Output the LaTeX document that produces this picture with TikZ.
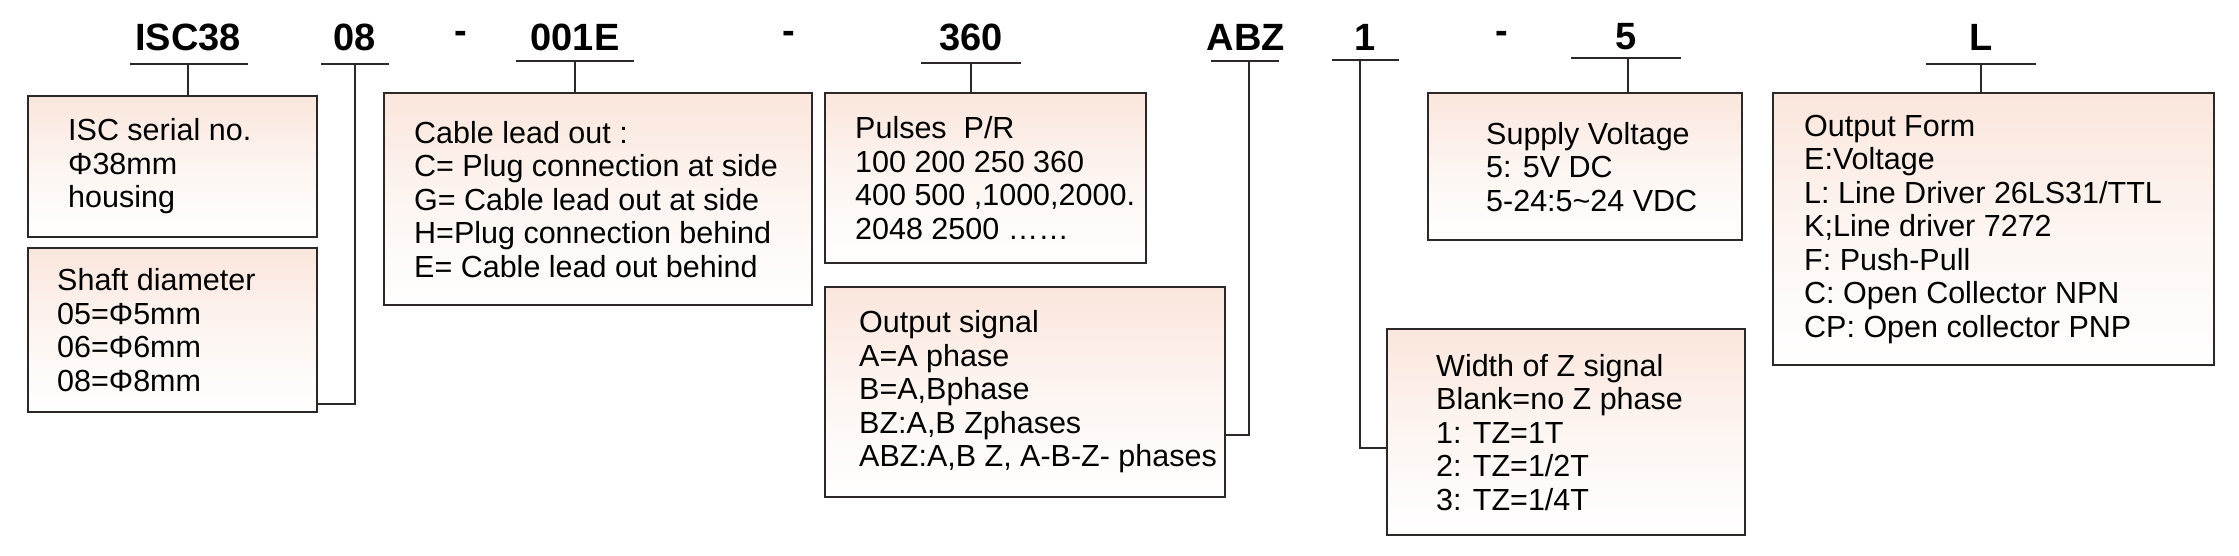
\documentclass[tikz,border=0pt]{standalone}
\usepackage{fontspec}
\setmainfont{Liberation Sans}
\usetikzlibrary{positioning,calc}
\definecolor{boxpeach}{RGB}{250,230,220}
\definecolor{boxline}{RGB}{45,40,40}

\begin{document}
\begin{tikzpicture}[x=1pt, y=-1pt,
  codebox/.style={draw=boxline, line width=2.2pt, anchor=north west, inner sep=0pt,
                  top color=boxpeach, bottom color=white, middle color=white!60!boxpeach,
                  shading angle=0},
  boxtext/.style={anchor=west, align=left, inner sep=0pt,
                  font=\fontsize{30.5}{33.5}\selectfont},
  code/.style={font=\fontsize{38}{40}\selectfont\bfseries, inner sep=0pt},
  lead/.style={line width=2pt, boxline}
]
\useasboundingbox (0,0) rectangle (2239,556);

%% code letters along the top
\node[code] (cisc)  at (188,37)  {ISC38};
\node[code] (cshaft) at (355,37) {08};
\node[code] (dash1) at (461,37)  {-};
\node[code] (ccable) at (575,37) {001E};
\node[code] (dash2) at (789,37)  {-};
\node[code] (cppr)  at (971,37)  {360};
\node[code] (cout)  at (1246,37) {ABZ};
\node[code] (cz)    at (1365,37) {1};
\node[code] (dash3) at (1502,37) {-};
\node[code] (cvolt) at (1626,37) {5};
\node[code] (cform) at (1981,37) {L};

%% boxes
\node[codebox, minimum width=289, minimum height=141] (bisc)   at (27,95)    {};
\node[codebox, minimum width=289, minimum height=164] (bshaft) at (27,247)   {};
\node[codebox, minimum width=428, minimum height=212] (bcable) at (383,92)   {};
\node[codebox, minimum width=321, minimum height=170] (bppr)   at (824,92)   {};
\node[codebox, minimum width=400, minimum height=210] (bout)   at (824,286)  {};
\node[codebox, minimum width=314, minimum height=147] (bvolt)  at (1427,92)  {};
\node[codebox, minimum width=358, minimum height=206] (bz)     at (1386,328) {};
\node[codebox, minimum width=441, minimum height=272] (bform)  at (1772,92)  {};

%% box texts
\node[boxtext] (tisc) at ([xshift=41]bisc.west)
  {ISC serial no.\\Φ38mm\\housing};
\node[boxtext] (tshaft) at ([xshift=30]bshaft.west)
  {Shaft diameter\\05=Φ5mm\\06=Φ6mm\\08=Φ8mm};
\node[boxtext] (tcable) at ([xshift=31]bcable.west)
  {Cable lead out :\\C= Plug connection at side\\G= Cable lead out at side\\H=Plug connection behind\\E= Cable lead out behind};
\node[boxtext] (tppr) at ([xshift=31]bppr.west)
  {Pulses\ \ P/R\\100 200 250 360\\400 500 ,1000,2000.\\2048 2500 \ldots\ldots};
\node[boxtext] (tout) at ([xshift=35]bout.west)
  {Output signal\\A=A phase\\B=A,Bphase\\BZ:A,B Zphases\\ABZ:A,B Z, A-B-Z- phases};
\node[boxtext] (tvolt) at ([xshift=59]bvolt.west)
  {Supply Voltage\\5: 5V DC\\5-24:5\textasciitilde24 VDC};
\node[boxtext] (tz) at ([xshift=50]bz.west)
  {Width of Z signal\\Blank=no Z phase\\1: TZ=1T\\2: TZ=1/2T\\3: TZ=1/4T};
\node[boxtext] (tform) at ([xshift=32]bform.west)
  {Output Form\\E:Voltage\\L: Line Driver 26LS31/TTL\\K;Line driver 7272\\F: Push-Pull\\C: Open Collector NPN\\CP: Open collector PNP};

%% underlines
\coordinate (uisc)   at (188,64);
\coordinate (ushaft) at (355,64);
\coordinate (ucable) at (575,61);
\coordinate (uppr)   at (971,63);
\coordinate (uout)   at (1249,61);
\coordinate (uz)     at (1360,60);
\coordinate (uvolt)  at (1628,58);
\coordinate (uform)  at (1981,64);
\draw[lead] ([xshift=-58]uisc)   -- ([xshift=60]uisc);
\draw[lead] ([xshift=-34]ushaft) -- ([xshift=34]ushaft);
\draw[lead] ([xshift=-59]ucable) -- ([xshift=59]ucable);
\draw[lead] ([xshift=-50]uppr)   -- ([xshift=50]uppr);
\draw[lead] ([xshift=-38]uout)   -- ([xshift=30]uout);
\draw[lead] ([xshift=-28]uz)     -- ([xshift=39]uz);
\draw[lead] ([xshift=-57]uvolt)  -- ([xshift=53]uvolt);
\draw[lead] ([xshift=-55]uform)  -- ([xshift=55]uform);

%% leads down to the boxes
\draw[lead] (uisc)   -- (uisc |- bisc.north);
\draw[lead] (ushaft) |- ([yshift=-74]bshaft.east);
\draw[lead] (ucable) -- (ucable |- bcable.north);
\draw[lead] (uppr)   -- (uppr |- bppr.north);
\draw[lead] (uout)   |- ([yshift=-43]bout.east);
\draw[lead] (uz)     |- ([yshift=-16]bz.west);
\draw[lead] (uvolt)  -- (uvolt |- bvolt.north);
\draw[lead] (uform)  -- (uform |- bform.north);

\end{tikzpicture}
\end{document}
